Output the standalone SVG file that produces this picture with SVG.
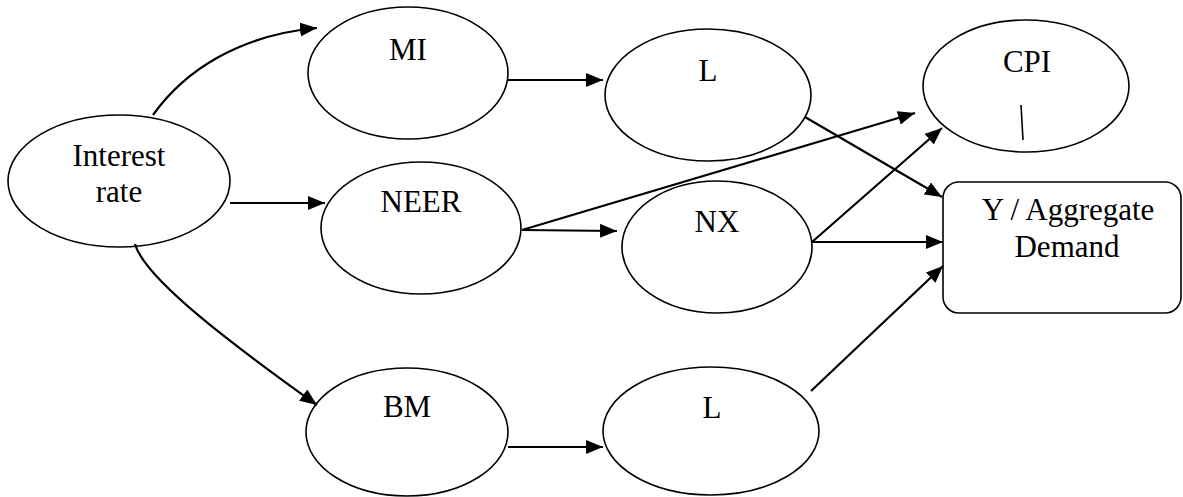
<svg xmlns="http://www.w3.org/2000/svg" width="1183" height="497" viewBox="0 0 1183 497">
  <style>
    .node { fill: #ffffff; stroke: #000000; stroke-width: 1.6; }
    .label { font-family: 'Liberation Serif', 'DejaVu Serif', serif; font-size: 31px; fill: #000000; text-anchor: middle; }
    .edge { fill: none; stroke: #000000; stroke-width: 2.2; marker-end: url(#arrow); }
    .tick { fill: none; stroke: #000000; stroke-width: 1.6; }
  </style>
  <defs>
    <marker id="arrow" markerUnits="userSpaceOnUse" markerWidth="19" markerHeight="15" refX="17" refY="7" orient="auto">
      <path d="M0,0 L17,7 L0,14 Z" fill="#000000"/>
    </marker>
  </defs>
  <rect width="1183" height="497" fill="#ffffff"/>

  <g id="interest-rate">
    <ellipse class="node" cx="119" cy="181" rx="111" ry="66"/>
    <text class="label" font-family="Liberation Serif" x="119" y="166">Interest</text>
    <text class="label" font-family="Liberation Serif" x="119" y="202">rate</text>
  </g>

  <g id="mi">
    <ellipse class="node" cx="408" cy="73" rx="100" ry="66"/>
    <text class="label" font-family="Liberation Serif" x="408" y="60">MI</text>
  </g>

  <g id="l-top">
    <ellipse class="node" cx="708" cy="95" rx="103" ry="66"/>
    <text class="label" font-family="Liberation Serif" x="708" y="81">L</text>
  </g>

  <g id="neer">
    <ellipse class="node" cx="421" cy="228" rx="100" ry="66"/>
    <text class="label" font-family="Liberation Serif" x="421" y="212">NEER</text>
  </g>

  <g id="nx">
    <ellipse class="node" cx="717" cy="247" rx="95" ry="66"/>
    <text class="label" font-family="Liberation Serif" x="717" y="232">NX</text>
  </g>

  <g id="cpi">
    <ellipse class="node" cx="1026" cy="86" rx="103" ry="66"/>
    <text class="label" font-family="Liberation Serif" x="1027" y="72">CPI</text>
    <line class="tick" x1="1021" y1="105" x2="1023" y2="140"/>
  </g>

  <g id="aggregate-demand">
    <rect class="node" x="943" y="182" width="238" height="131" rx="16" ry="16"/>
    <text class="label" font-family="Liberation Serif" x="1068" y="220">Y / Aggregate</text>
    <text class="label" font-family="Liberation Serif" x="1067" y="257">Demand</text>
  </g>

  <g id="bm">
    <ellipse class="node" cx="407" cy="432" rx="101" ry="64"/>
    <text class="label" font-family="Liberation Serif" x="407" y="417">BM</text>
  </g>

  <g id="l-bottom">
    <ellipse class="node" cx="711" cy="431" rx="108" ry="64"/>
    <text class="label" font-family="Liberation Serif" x="712" y="418">L</text>
  </g>

  <g id="connectors">
    <path class="edge" d="M153,115 C185,70 240,35 317,28"/>
    <path class="edge" d="M230,203 L325,203"/>
    <path class="edge" d="M135,244 C145,280 240,350 317,405"/>
    <path class="edge" d="M508,80 L603,80"/>
    <path class="edge" d="M522,230 L915,113"/>
    <path class="edge" d="M522,230 L617,231"/>
    <path class="edge" d="M805,117 L942,197"/>
    <path class="edge" d="M812,242 L942,128"/>
    <path class="edge" d="M812,242 L943,242"/>
    <path class="edge" d="M508,447 L603,447"/>
    <path class="edge" d="M811,391 L943,266"/>
  </g>
</svg>
